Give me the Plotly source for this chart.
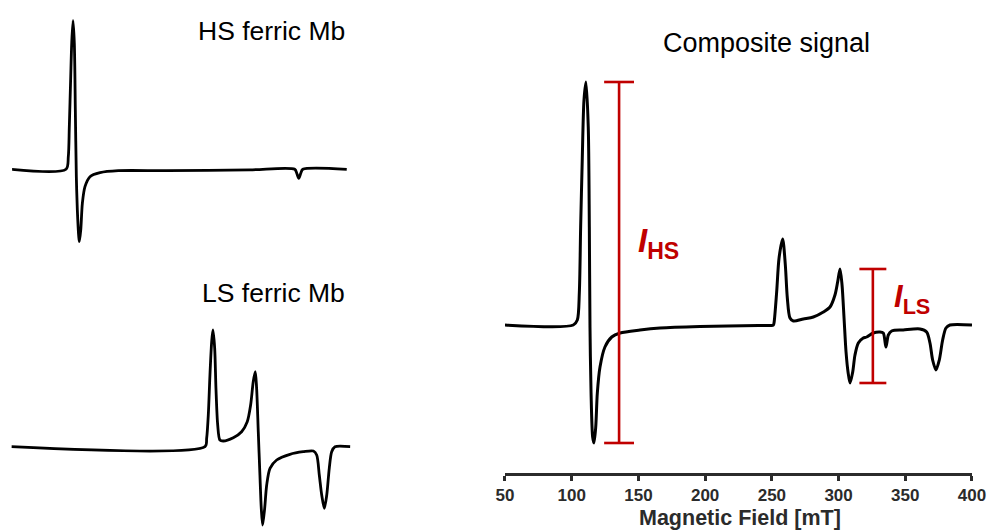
import plotly.graph_objects as go

# Field positions (mT) and derivative intensities (a.u.) of each EPR spectrum
hs_field = [48.9, 103.7, 106.0, 107.0, 108.4, 109.4, 110.7, 112.0, 113.0, 114.0, 115.0,
            116.4, 117.0, 118.4, 120.0, 122.6, 127.6, 137.6, 155.8, 204.0, 287.0,
            331.6, 333.6, 335.6, 337.6, 339.6, 383.4]
hs_signal = [0.0, 0.0, 0.126, 0.426, 0.926, 1.26, 1.486, 1.26, 0.593, -0.074, -0.407,
             -0.674, -0.724, -0.607, -0.34, -0.174, -0.074, -0.034, -0.014, -0.014, -0.005,
             0.0, -0.04, -0.09, -0.04, 0.0, 0.0]

ls_field = [50.0, 249.9, 251.6, 253.3, 255.0, 256.8, 258.1, 259.9, 261.2, 263.0, 265.3,
            268.7, 279.1, 287.7, 293.5, 297.0, 299.7, 301.8, 303.2, 304.9, 306.6, 308.0,
            309.4, 311.5, 313.6, 317.0, 323.9, 337.6, 351.4, 361.8, 365.2, 367.9, 370.4,
            373.1, 375.6, 378.2, 380.7, 384.1, 400.0]
ls_signal = [0.0, 0.0, 0.084, 0.317, 0.717, 1.05, 1.167, 0.984, 0.584, 0.217, 0.067,
             0.057, 0.09, 0.15, 0.25, 0.417, 0.65, 0.75, 0.584, 0.15, -0.283, -0.616,
             -0.783, -0.616, -0.383, -0.216, -0.133, -0.076, -0.05, -0.043, -0.083, -0.283,
             -0.483, -0.616, -0.483, -0.216, -0.05, 0.0, 0.0]

comp_field = [50.0, 101.2, 104.2, 105.7, 106.7, 107.9, 109.2, 110.7, 112.4, 113.2, 113.7,
              114.5, 115.7, 116.7, 118.0, 119.2, 121.2, 124.9, 130.0, 136.2, 151.2, 166.2,
              196.1, 240.0, 251.1, 251.6, 253.6, 255.4, 258.1, 260.1, 261.6, 263.6, 266.1,
              273.6, 281.1, 288.6, 293.6, 297.3, 299.3, 301.1, 302.6, 304.1, 305.6, 307.1,
              308.6, 310.6, 312.3, 314.8, 318.5, 321.1, 326.0, 331.0, 333.5, 335.5, 337.3,
              339.8, 348.5, 361.0, 366.0, 368.5, 370.5, 373.0, 375.5, 378.0, 380.5, 383.5,
              400.0]
comp_signal = [0.0, 0.0, 0.05, 0.32, 0.98, 1.65, 2.25, 2.43, 1.98, 0.98, -0.02,
               -0.68, -1.12, -1.18, -1.02, -0.68, -0.42, -0.22, -0.12, -0.08, -0.05, -0.03,
               -0.015, -0.005, 0.0, 0.02, 0.33, 0.67, 0.86, 0.60, 0.27, 0.07, 0.04,
               0.06, 0.08, 0.13, 0.18, 0.30, 0.43, 0.56, 0.40, 0.07, -0.27, -0.47,
               -0.58, -0.47, -0.30, -0.18, -0.13, -0.12, -0.08, -0.07, -0.08, -0.22, -0.10,
               -0.06, -0.05, -0.04, -0.07, -0.18, -0.35, -0.45, -0.35, -0.15, -0.03, 0.0,
               0.0]

# Where the two intensity bars are placed (mT) and their cap half-widths (mT)
hs_bar_field = 135.5
ls_bar_field = 325.7
hs_cap = 11.2
ls_cap = 10.1

field_ticks = [50, 100, 150, 200, 250, 300, 350, 400]

RED = "#C00000"
AXIS = "#2b2b2b"
FONT = "Liberation Sans, Arial, Helvetica, sans-serif"


def peak_to_peak(field, signal, lo, hi):
    vals = [s for f, s in zip(field, signal) if lo <= f <= hi]
    return max(vals), min(vals)


hs_top, hs_bottom = peak_to_peak(comp_field, comp_signal, 90, 140)
ls_top, ls_bottom = peak_to_peak(comp_field, comp_signal, 295, 320)


def bar_xy(x0, top, bottom, cap):
    xs = [x0, x0, None, x0 - cap, x0 + cap, None, x0 - cap, x0 + cap]
    ys = [top, bottom, None, top, top, None, bottom, bottom]
    return xs, ys


fig = go.Figure()

spline = dict(color="black", shape="spline", smoothing=0.8)

fig.add_trace(go.Scatter(x=hs_field, y=hs_signal, mode="lines",
                         line=dict(width=2.8, **spline), xaxis="x", yaxis="y",
                         hoverinfo="skip"))
fig.add_trace(go.Scatter(x=ls_field, y=ls_signal, mode="lines",
                         line=dict(width=2.8, **spline), xaxis="x2", yaxis="y2",
                         hoverinfo="skip"))
fig.add_trace(go.Scatter(x=comp_field, y=comp_signal, mode="lines",
                         line=dict(width=3, **spline), xaxis="x3", yaxis="y3",
                         hoverinfo="skip"))

for x0, top, bottom, cap in [(hs_bar_field, hs_top, hs_bottom, hs_cap),
                             (ls_bar_field, ls_top, ls_bottom, ls_cap)]:
    bx, by = bar_xy(x0, top, bottom, cap)
    fig.add_trace(go.Scatter(x=bx, y=by, mode="lines",
                             line=dict(color=RED, width=2.6),
                             xaxis="x3", yaxis="y3", hoverinfo="skip"))

hidden = dict(visible=False, showgrid=False, zeroline=False, automargin=False)

fig.update_layout(
    width=987, height=531,
    margin=dict(l=0, r=0, t=0, b=0, autoexpand=False),
    paper_bgcolor="white", plot_bgcolor="white",
    showlegend=False,
    font=dict(family=FONT, color="black"),
    xaxis=dict(domain=[0.01226, 0.3682], range=[50, 400], anchor="y", **hidden),
    yaxis=dict(domain=[0.5292, 0.9812], range=[-0.807, 1.593], anchor="x", **hidden),
    xaxis2=dict(domain=[0.01155, 0.3550], range=[50, 400], anchor="y2", **hidden),
    yaxis2=dict(domain=[0.0, 0.4162], range=[-0.843, 1.367], anchor="x2", **hidden),
    xaxis3=dict(domain=[0.51165, 0.98480], range=[50, 400], anchor="y3",
                automargin=False,
                showline=True, linecolor=AXIS, linewidth=2.5,
                ticks="outside", ticklen=5, tickwidth=2.5, tickcolor=AXIS,
                tickvals=field_ticks, ticktext=[str(t) for t in field_ticks],
                tickfont=dict(size=17, color=AXIS, weight="bold"),
                showgrid=False, zeroline=False),
    yaxis3=dict(domain=[0.10923, 0.88701], range=[-1.48, 2.65], anchor="x3", **hidden),
)

# x-axis title of the composite panel
fig.add_annotation(text="<b>Magnetic Field [mT]</b>", xref="paper", yref="paper",
                   x=0.7493, y=0.0, xanchor="center", yanchor="bottom",
                   showarrow=False, borderpad=0, font=dict(size=21.5, color=AXIS))

fig.add_annotation(text="HS ferric Mb", xref="paper", yref="paper",
                   x=347 / 987, y=0.9416, xanchor="right", yanchor="middle",
                   showarrow=False, font=dict(size=26.5, color="black"))
fig.add_annotation(text="LS ferric Mb", xref="paper", yref="paper",
                   x=347 / 987, y=0.4476, xanchor="right", yanchor="middle",
                   showarrow=False, font=dict(size=26.5, color="black"))
fig.add_annotation(text="Composite signal", xref="paper", yref="paper",
                   x=0.7768, y=0.9184, xanchor="center", yanchor="middle",
                   showarrow=False, font=dict(size=27, color="black"))
fig.add_annotation(text="<b><i>I</i></b><sub><b>HS</b></sub>", xref="paper", yref="paper",
                   x=0.6440, y=0.5424, xanchor="left", yanchor="middle",
                   showarrow=False, font=dict(size=33, color=RED))
fig.add_annotation(text="<b><i>I</i></b><sub><b>LS</b></sub>", xref="paper", yref="paper",
                   x=0.9040, y=0.4369, xanchor="left", yanchor="middle",
                   showarrow=False, font=dict(size=31, color=RED))

fig.write_html("out.html")
